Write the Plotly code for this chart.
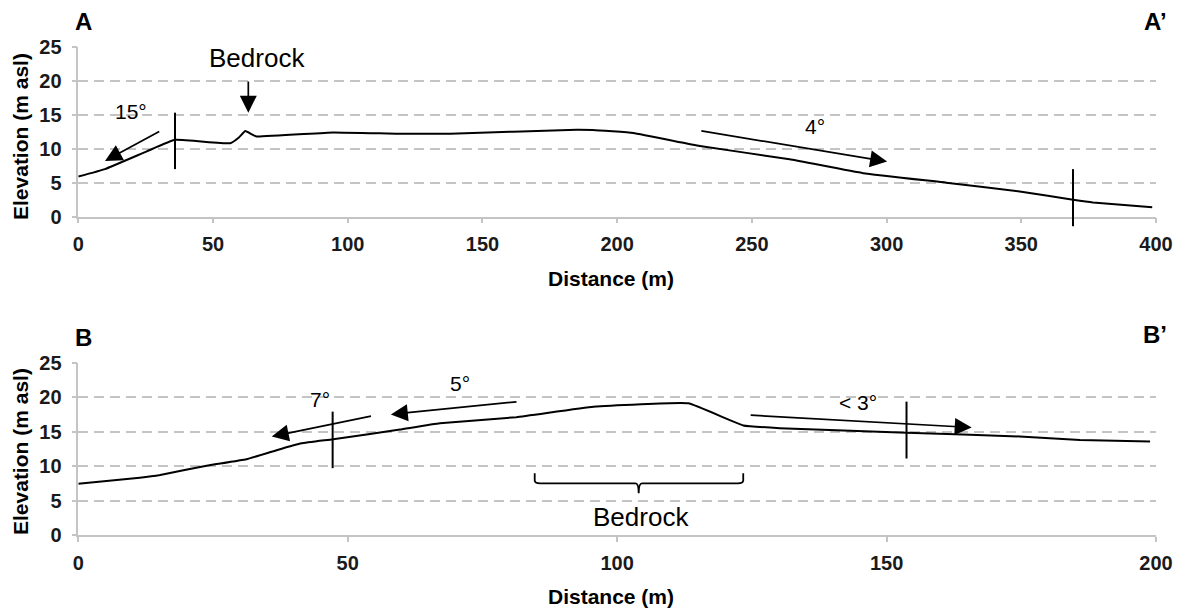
import plotly.graph_objects as go

# Profile A–A' (distance in m, elevation in m asl)
dist_a = [0, 9.9, 25.4, 35.9, 56.4, 59.5, 62.0, 64.5, 66.2, 94.6, 119.4, 138, 185, 191, 206,
          230.7, 264, 291.3, 322.2, 349.4, 369.2, 376.6, 398.6]
elev_a = [5.9, 7.0, 9.6, 11.3, 10.8, 11.6, 12.6, 12.1, 11.8, 12.4, 12.2, 12.2, 12.8, 12.75,
          12.3, 10.4, 8.45, 6.4, 5.0, 3.7, 2.5, 2.1, 1.4]

# Profile B–B'
dist_b = [0, 11.4, 15.2, 23.8, 31.2, 36.8, 41.4, 47.3, 59.7, 67.1, 81.3, 95.6, 113.2,
          123.4, 130.2, 153.7, 174.7, 185.9, 198.9]
elev_b = [7.45, 8.3, 8.7, 10.06, 11.0, 12.3, 13.3, 13.9, 15.3, 16.2, 17.1, 18.6, 19.1,
          15.9, 15.5, 14.85, 14.3, 13.8, 13.55]

x_ticks_a = [0, 50, 100, 150, 200, 250, 300, 350, 400]
x_ticks_b = [0, 50, 100, 150, 200]
y_ticks = [0, 5, 10, 15, 20, 25]

W, H = 1180, 610
X0, X1 = 78.3 / W, 1156 / W
DOM_A = [1 - 216.7 / H, 1 - 46.7 / H]
DOM_B = [1 - 535 / H, 1 - 362.7 / H]

FONT = "Liberation Sans, Arial, sans-serif"
GRID = "#c4c4c4"

fig = go.Figure()
fig.add_trace(go.Scatter(x=dist_a, y=elev_a, mode="lines", xaxis="x", yaxis="y",
                         line=dict(color="black", width=2, shape="spline", smoothing=0.3),
                         showlegend=False, hoverinfo="skip"))
fig.add_trace(go.Scatter(x=dist_b, y=elev_b, mode="lines", xaxis="x2", yaxis="y2",
                         line=dict(color="black", width=2, shape="spline", smoothing=0.3),
                         showlegend=False, hoverinfo="skip"))

def xaxis(dom_anchor, ticks, rng):
    return dict(domain=[X0, X1], anchor=dom_anchor, range=rng, tickvals=ticks,
                showgrid=False, zeroline=False, showline=True, linecolor=GRID, linewidth=1.5,
                ticks="outside", ticklen=5, tickcolor=GRID, tickwidth=1.5,
                tickfont=dict(family=FONT, size=20, color="#1a1a1a", weight="bold"),
                ticklabelstandoff=4, automargin=False, fixedrange=True)

def yaxis(dom, anchor):
    return dict(domain=dom, anchor=anchor, range=[0, 25], tickvals=y_ticks,
                showgrid=True, gridcolor=GRID, gridwidth=1.8, griddash="10px,6px",
                zeroline=False, showline=True, linecolor=GRID, linewidth=1.5,
                ticks="outside", ticklen=5, tickcolor=GRID, tickwidth=1.5,
                tickfont=dict(family=FONT, size=20, color="#1a1a1a", weight="bold"),
                ticklabelstandoff=6, automargin=False, fixedrange=True)

fig.update_layout(
    width=W, height=H, margin=dict(l=0, r=0, t=0, b=0),
    paper_bgcolor="white", plot_bgcolor="white",
    xaxis=xaxis("y", x_ticks_a, [0, 400]),
    yaxis=yaxis(DOM_A, "x"),
    xaxis2=xaxis("y2", x_ticks_b, [0, 200]),
    yaxis2=yaxis(DOM_B, "x2"),
    font=dict(family=FONT, color="black"),
)

ann = []

def label(text, x, y, xr, yr, size=21):
    ann.append(dict(text=text, x=x, y=y, xref=xr, yref=yr, showarrow=False,
                    xanchor="center", yanchor="middle",
                    font=dict(family=FONT, size=size, color="black")))

def arrow(x_head, y_head, x_tail, y_tail, xr, yr):
    ann.append(dict(text="", x=x_head, y=y_head, ax=x_tail, ay=y_tail,
                    xref=xr, yref=yr, axref=xr, ayref=yr, showarrow=True,
                    arrowhead=2, arrowsize=2.0, arrowwidth=1.7, arrowcolor="black"))

# Panel A annotations
label("15°", 19.6, 15.4, "x", "y")
arrow(9.9, 8.2, 30.6, 12.65, "x", "y")
label("Bedrock", 66.2, 23.4, "x", "y", size=26)
arrow(63.1, 15.3, 63.1, 20.1, "x", "y")
label("4°", 273.4, 13.3, "x", "y")
arrow(300.2, 8.1, 230.7, 12.65, "x", "y")

# Panel B annotations
label("7°", 44.8, 19.6, "x2", "y2")
arrow(35.9, 14.3, 54.6, 17.3, "x2", "y2")
label("5°", 70.9, 22.0, "x2", "y2")
arrow(58.0, 17.5, 81.6, 19.35, "x2", "y2")
label("< 3°", 144.7, 19.2, "x2", "y2")
arrow(165.8, 15.6, 124.5, 17.4, "x2", "y2")
label("Bedrock", 104.5, 2.6, "x2", "y2", size=26)

# Section end letters
def corner(text, xpx, ypx, anchor):
    ann.append(dict(text=f"<b>{text}</b>", x=xpx / W, y=1 - ypx / H, xref="paper", yref="paper",
                    xanchor=anchor, yanchor="middle", showarrow=False,
                    font=dict(family=FONT, size=24, color="black")))

corner("A", 73, 22, "left")
corner("A’", 1169, 22, "right")
corner("B", 73, 337, "left")
corner("B’", 1169, 334, "right")

# Axis titles
for yc in (137, 452):
    ann.append(dict(text="<b>Elevation (m asl)</b>", x=20 / W, y=1 - yc / H, xref="paper",
                    yref="paper", textangle=-90, showarrow=False,
                    xanchor="center", yanchor="middle",
                    font=dict(family=FONT, size=21, color="black")))
for yc in (278, 596):
    ann.append(dict(text="<b>Distance (m)</b>", x=611 / W, y=1 - yc / H, xref="paper",
                    yref="paper", showarrow=False, xanchor="center", yanchor="middle",
                    font=dict(family=FONT, size=21, color="black")))

fig.update_layout(annotations=ann)

# Slope-break markers (drawn in axis-domain units so they may cross the axis line)
def vbar(x, y0, y1, xmax, n):
    xs = "x" if n == 1 else f"x{n}"
    ys = "y" if n == 1 else f"y{n}"
    fig.add_shape(type="line", xref=f"{xs} domain", yref=f"{ys} domain",
                  x0=x / xmax, x1=x / xmax, y0=y0 / 25, y1=y1 / 25,
                  line=dict(color="black", width=2))

vbar(35.9, 7.0, 15.3, 400, 1)
vbar(369.2, -1.4, 7.0, 400, 1)
vbar(47.2, 9.7, 17.9, 200, 2)
vbar(153.7, 11.1, 19.35, 200, 2)

# Brace under the bedrock section of B
bx0, bx1, bxm = 84.7, 123.4, 104.0
by_top, by, by_tip = 8.95, 7.5, 6.05
path = (f"M {bx0},{by_top} L {bx0},{by + 0.4} Q {bx0},{by} {bx0 + 1},{by} "
        f"L {bxm - 0.6},{by} Q {bxm},{by} {bxm},{by_tip} Q {bxm},{by} {bxm + 0.6},{by} "
        f"L {bx1 - 1},{by} Q {bx1},{by} {bx1},{by + 0.4} L {bx1},{by_top}")
fig.add_shape(type="path", path=path, xref="x2", yref="y2",
              line=dict(color="black", width=1.8))

fig.write_html("out.html")
